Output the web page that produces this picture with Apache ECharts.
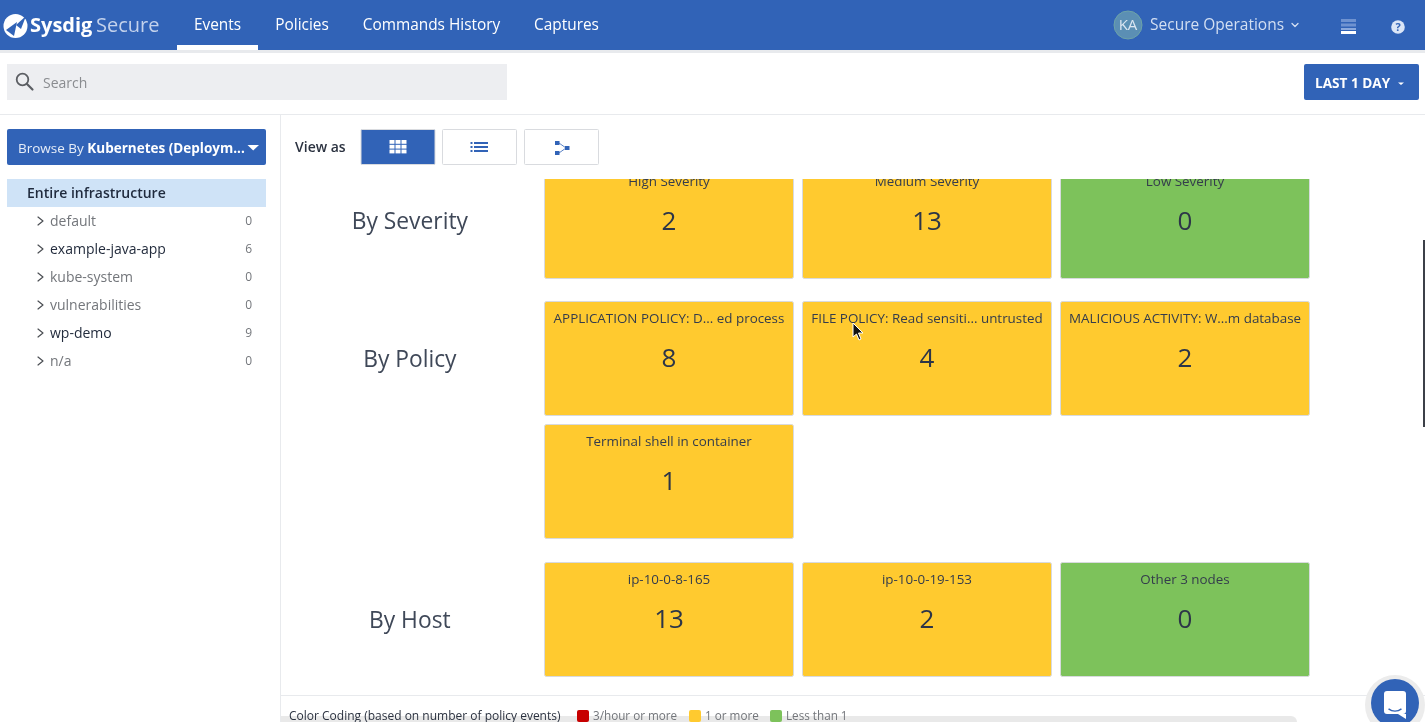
<!DOCTYPE html>
<html>
<head>
<meta charset="utf-8">
<title>Sysdig Secure Events</title>
<script src="https://cdn.jsdelivr.net/npm/echarts@6/dist/echarts.min.js"></script>
<style>
html, body { margin: 0; padding: 0; background: #fff; overflow: hidden; }
#main { width: 1425px; height: 722px; }
</style>
</head>
<body>
<div id="main"></div>
<script>
// tile data, reads left to right, top to bottom
var tileNames = ['High Severity', 'Medium Severity', 'Low Severity',
    'APPLICATION POLICY: D... ed process', 'FILE POLICY: Read sensiti... untrusted', 'MALICIOUS ACTIVITY: W...m database',
    'Terminal shell in container',
    'ip-10-0-8-165', 'ip-10-0-19-153', 'Other 3 nodes'];
var tileValues = [2, 13, 0, 8, 4, 2, 1, 13, 2, 0];
var tileGroups = [0, 0, 0, 1, 1, 1, 1, 2, 2, 2];
var tileRows = [0, 0, 0, 0, 0, 0, 1, 0, 0, 0];
var tileCols = [0, 1, 2, 0, 1, 2, 0, 0, 1, 2];
var groupNames = ['By Severity', 'By Policy', 'By Host'];
var groupRowCounts = [1, 2, 1];

var treeNames = ['default', 'example-java-app', 'kube-system', 'vulnerabilities', 'wp-demo', 'n/a'];
var treeCounts = [0, 6, 0, 0, 9, 0];
var navTabs = ['Events', 'Policies', 'Commands History', 'Captures'];
var legendLabels = ['3/hour or more', '1 or more', 'Less than 1'];
var legendColors = ['#c70000', '#ffca2f', '#7dc25b'];

var BLUE = '#3163b7';
var FONT = '"Open Sans", sans-serif';
var GROUP_GAP = 0.118;

function rowPos(group, row) {
    var before = 0;
    for (var i = 0; i < group; i++) before += groupRowCounts[i];
    return before + row + group * GROUP_GAP;
}

var tileData = tileNames.map(function (n, i) {
    return [tileCols[i], rowPos(tileGroups[i], tileRows[i]), tileValues[i]];
});
var groupData = groupNames.map(function (n, i) {
    return [-0.52, rowPos(i, 0)];
});

function renderTile(params, api) {
    var p = api.coord([api.value(0), api.value(1)]);
    var next = api.coord([api.value(0) + 1, api.value(1) + 1]);
    var x = Math.round(p[0]), y = Math.floor(p[1]);
    var w = next[0] - p[0] - 8, h = next[1] - p[1] - 9;
    var count = api.value(2);
    return {
        type: 'group',
        children: [{
            type: 'rect',
            shape: { x: x + 0.5, y: y + 0.5, width: w - 1, height: h, r: 2 },
            style: { fill: count >= 1 ? legendColors[1] : legendColors[2], stroke: '#d8dade', lineWidth: 1 }
        }, {
            type: 'text',
            style: { x: x + w / 2, y: y + 18, text: tileNames[params.dataIndex], font: '13.4px ' + FONT, fill: '#343c4c', align: 'center', verticalAlign: 'middle' }
        }, {
            type: 'text',
            style: { x: x + w / 2, y: y + 59, text: String(count), font: '26px ' + FONT, fill: '#2c3548', align: 'center', verticalAlign: 'middle' }
        }]
    };
}

function renderGroup(params, api) {
    var p = api.coord([api.value(0), api.value(1)]);
    return {
        type: 'text',
        style: { x: p[0], y: p[1] + 59, text: groupNames[params.dataIndex], font: '22.8px ' + FONT, fill: '#3f4858', align: 'center', verticalAlign: 'middle' }
    };
}

// page chrome helpers
function box(x, y, w, h, fill, extra) {
    var s = { fill: fill };
    var r = 0, z = 20;
    if (extra) {
        if (extra.stroke) { s.stroke = extra.stroke; s.lineWidth = 1; }
        if (extra.r) r = extra.r;
        if (extra.z) z = extra.z;
    }
    return { type: 'rect', z: z, shape: { x: x, y: y, width: w, height: h, r: r }, style: s };
}
function label(x, y, str, font, fill, align) {
    return { type: 'text', z: 20, x: x, y: y, style: { text: str, font: font + ' ' + FONT, fill: fill, align: align || 'left', verticalAlign: 'middle' } };
}
function poly(points, stroke, width) {
    return { type: 'polyline', z: 20, shape: { points: points }, style: { stroke: stroke, fill: null, lineWidth: width, lineCap: 'round', lineJoin: 'round' } };
}
function tri(points, fill, z) {
    return { type: 'polygon', z: z || 20, shape: { points: points }, style: { fill: fill } };
}
function dot(cx, cy, r, fill, extra) {
    var s = { fill: fill };
    if (extra && extra.stroke) { s.stroke = extra.stroke; s.lineWidth = extra.width || 1; }
    return { type: 'circle', z: (extra && extra.z) || 20, shape: { cx: cx, cy: cy, r: r }, style: s };
}

var chrome = [];
// mask for the scrolled tiles
chrome.push(box(281, 115, 1144, 64, '#fff', { z: 10 }));

// header
chrome.push(box(0, 0, 1425, 50, BLUE));
chrome.push(box(0, 50, 1425, 3, '#e8eaed'));
chrome.push(dot(15.5, 26, 12, '#fff'));
chrome.push(tri([[6, 30], [17, 22], [14, 36]], BLUE));
chrome.push(tri([[16, 25], [26, 16], [21, 29]], BLUE));
chrome.push(label(30, 26, 'Sysdig', 'bold 20px', '#fff'));
chrome.push(label(96, 26, 'Secure', '20px', '#c3d2ec'));
var tabCenters = [217.5, 302, 431.5, 566.5];
navTabs.forEach(function (t, i) {
    chrome.push(label(tabCenters[i], 26, t, '15.4px', '#fff', 'center'));
});
chrome.push(box(177, 45, 81, 5, '#fff'));
chrome.push(dot(1128, 25, 14, '#5b8fb4', { stroke: '#6da3a8' }));
chrome.push(label(1128, 26, 'KA', '15px', '#dbe6f2', 'center'));
chrome.push(label(1150, 26, 'Secure Operations', '15.5px', '#d3dff2'));
chrome.push(poly([[1292, 23.5], [1295, 26.5], [1298, 23.5]], '#d3dff2', 1.3));
chrome.push(box(1341, 19, 15, 3, '#6e92d0'));
chrome.push(box(1341, 23.5, 15, 3, '#6e92d0'));
chrome.push(box(1341, 28, 15, 2, '#8aa8dc'));
chrome.push(box(1341, 31, 15, 3, '#fff'));
chrome.push(dot(1398, 27, 6.8, '#dbe6f7'));
chrome.push(label(1398, 27.5, '?', 'bold 11px', BLUE, 'center'));

// search row
chrome.push(box(7, 64, 500, 36, '#edeef1'));
chrome.push({ type: 'circle', z: 20, shape: { cx: 22.5, cy: 79.5, r: 5.8 }, style: { fill: null, stroke: '#5b5e63', lineWidth: 1.8 } });
chrome.push(poly([[27, 84], [32.5, 89.5]], '#5b5e63', 2.2));
chrome.push(label(43, 84, 'Search', '14px', '#8a8c90'));
chrome.push(box(1304, 64, 115, 36, BLUE, { r: 2 }));
chrome.push(label(1315, 84, 'LAST 1 DAY', 'bold 13.6px', '#fff'));
chrome.push(tri([[1398, 82.5], [1404, 82.5], [1401, 85]], '#fff'));
chrome.push(box(0, 114, 1425, 1, '#e8eaed'));
chrome.push(box(280, 115, 1, 607, '#e8eaed'));

// browse dropdown and view switch
chrome.push(box(7, 129, 259, 36, BLUE, { r: 2 }));
chrome.push({
    type: 'text', z: 20, x: 18, y: 149,
    style: {
        text: '{a|Browse By }{b|Kubernetes (Deploym...}',
        verticalAlign: 'middle',
        rich: {
            a: { font: '13.5px ' + FONT, fill: '#e6edf8' },
            b: { font: 'bold 13.5px ' + FONT, fill: '#fff' }
        }
    }
});
chrome.push(tri([[247.5, 145], [259, 145], [253.2, 150.5]], '#fff'));
chrome.push(label(295, 148, 'View as', '600 14px', '#2b3240'));
chrome.push(box(361, 129.5, 74, 35, BLUE, { stroke: '#d9dbdf', r: 1 }));
chrome.push(box(442.5, 129.5, 74, 35, '#fff', { stroke: '#d9dbdf', r: 1 }));
chrome.push(box(524.5, 129.5, 74, 35, '#fff', { stroke: '#d9dbdf', r: 1 }));
for (var gy = 0; gy < 3; gy++) {
    for (var gx = 0; gx < 3; gx++) {
        chrome.push(box(389.5 + gx * 6, 140 + gy * 4.8, 5, 3.8, '#fff'));
    }
}
for (var ly = 0; ly < 3; ly++) {
    chrome.push(box(470.5, 142 + ly * 4, 2, 2, BLUE));
    chrome.push(box(474, 142 + ly * 4, 14, 2, BLUE));
}
chrome.push(box(555, 141, 4.5, 4, BLUE));
chrome.push(box(555, 151, 4.5, 4, BLUE));
chrome.push(box(565, 146, 4.5, 4, BLUE));
chrome.push(poly([[559, 143], [566, 148], [559, 153]], BLUE, 0.8));

// left tree
chrome.push(box(7, 179, 259, 28, '#cfe3f7'));
chrome.push(label(27, 194, 'Entire infrastructure', '600 14px', '#1f2a3d'));
treeNames.forEach(function (n, i) {
    var y = 221 + i * 28;
    var on = treeCounts[i] > 0;
    chrome.push(poly([[38, y - 4], [43, y], [38, y + 4]], '#4a4d52', 1.2));
    chrome.push(label(50, y + 1, n, '14px', on ? '#232c3d' : '#73767b'));
    chrome.push(label(252, y + 1, String(treeCounts[i]), '12px', '#73767b', 'right'));
});

// footer
chrome.push(box(281, 695, 1144, 1, '#e8eaed'));
chrome.push(box(281, 716, 1016, 6, '#e9e9e9', { r: [0, 6, 0, 0] }));
chrome.push(label(289, 716.5, 'Color Coding (based on number of policy events)', '12px', '#2b3240'));
var legendBoxX = [577, 689, 770];
legendLabels.forEach(function (t, i) {
    chrome.push(box(legendBoxX[i], 710, 12, 12, legendColors[i], { r: 2 }));
    chrome.push(label(legendBoxX[i] + 16, 716.5, t, '11.7px', '#73767b'));
});

// chat button and scrollbar
chrome.push(dot(1395, 705, 30, '#ececec'));
chrome.push(dot(1395, 703, 24, BLUE));
chrome.push(box(1384, 691, 22, 23, '#fff', { r: 3 }));
chrome.push(tri([[1398, 714], [1406, 714], [1406, 719]], '#fff'));
chrome.push({ type: 'arc', z: 21, shape: { cx: 1395, cy: 700, r: 11, startAngle: Math.PI * 0.3, endAngle: Math.PI * 0.7, clockwise: true }, style: { stroke: BLUE, fill: null, lineWidth: 1.4 } });
chrome.push(box(1423, 240, 2, 187, '#3c4048'));

// mouse pointer
chrome.push({ type: 'polygon', z: 30, shape: { points: [[853, 323], [853, 337], [856.5, 334], [859, 340], [861, 339], [858.5, 333], [863, 333]] }, style: { fill: '#111', stroke: '#fff', lineWidth: 1 } });

var chart = echarts.init(document.getElementById('main'), null, { renderer: 'canvas' });
chart.setOption({
    animation: false,
    backgroundColor: '#fff',
    grid: { left: 286, width: 1032, top: 164, height: 492 },
    xAxis: { type: 'value', min: -1, max: 3, show: false },
    yAxis: { type: 'value', min: 0, max: 4, inverse: true, show: false },
    graphic: { elements: chrome },
    series: [
        { type: 'custom', name: 'tiles', data: tileData, renderItem: renderTile, silent: true },
        { type: 'custom', name: 'groups', data: groupData, renderItem: renderGroup, silent: true }
    ]
});
</script>
</body>
</html>
